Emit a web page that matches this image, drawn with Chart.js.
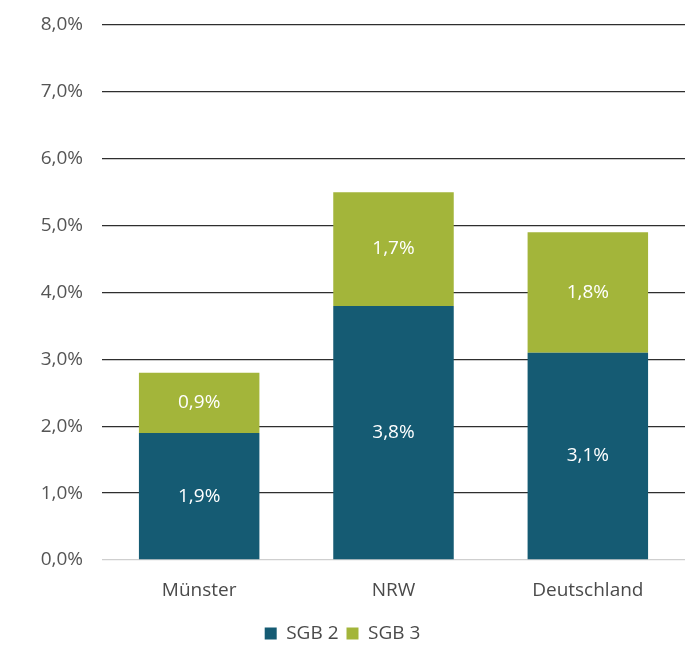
<!DOCTYPE html>
<html>
<head>
<meta charset="utf-8">
<script src="https://cdn.jsdelivr.net/npm/chart.js@4"></script>
<style>
  html, body { margin: 0; padding: 0; background: #fff; }
  #wrap { width: 691px; height: 649px; }
</style>
</head>
<body>
<div id="wrap"><canvas id="chart"></canvas></div>
<script>
const categories = ["Münster", "NRW", "Deutschland"];
const sgb2 = [1.9, 3.8, 3.1];
const sgb3 = [0.9, 1.7, 1.8];
const seriesNames = ["SGB 2", "SGB 3"];
const yTicks = [0, 1, 2, 3, 4, 5, 6, 7, 8];

const fmt = v => v.toFixed(1).replace(".", ",") + "%";

// white value labels in the middle of each bar segment
const barLabels = {
  id: "barLabels",
  afterDatasetsDraw(chart) {
    const ctx = chart.ctx;
    ctx.save();
    ctx.fillStyle = "#ffffff";
    ctx.font = "19px 'Open Sans', sans-serif";
    ctx.textAlign = "center";
    ctx.textBaseline = "middle";
    chart.data.datasets.forEach((ds, i) => {
      chart.getDatasetMeta(i).data.forEach((bar, j) => {
        const p = bar.getProps(["x", "y", "base"], true);
        ctx.fillText(fmt(ds.data[j]), p.x, (p.y + p.base) / 2);
      });
    });
    ctx.restore();
  }
};

new Chart(document.getElementById("chart"), {
  type: "bar",
  data: {
    labels: categories,
    datasets: [
      { label: seriesNames[0], data: sgb2, backgroundColor: "#155b73" },
      { label: seriesNames[1], data: sgb3, backgroundColor: "#a3b53a" }
    ]
  },
  options: {
    responsive: true,
    maintainAspectRatio: false,
    animation: false,
    layout: { padding: { top: 25, right: 6, left: 0, bottom: -4 } },
    datasets: { bar: { categoryPercentage: 0.62, barPercentage: 1 } },
    scales: {
      x: {
        stacked: true,
        grid: { display: false },
        border: { display: false },
        ticks: { color: "#4a4a4a", font: { size: 19, family: "'Open Sans', sans-serif" }, padding: 11 },
        afterFit(scale) { scale.height = 56; }
      },
      y: {
        stacked: true,
        min: yTicks[0],
        max: yTicks[yTicks.length - 1],
        afterBuildTicks(scale) { scale.ticks = yTicks.map(v => ({ value: v })); },
        border: { display: false },
        grid: {
          drawTicks: false,
          color: c => (c.tick && c.tick.value === 0 ? "#cfcfcf" : "#2e2e2e"),
          lineWidth: 1.3
        },
        ticks: {
          color: "#555555",
          padding: 19,
          font: { size: 19, family: "'Open Sans', sans-serif" },
          callback: v => fmt(v)
        },
        afterFit(scale) {
          scale.width = 102;
          scale.paddingTop = 0;
          scale.paddingBottom = 0;
        }
      }
    },
    plugins: {
      legend: {
        position: "bottom",
        labels: {
          color: "#4a4a4a",
          font: { size: 19, family: "'Open Sans', sans-serif" },
          boxWidth: 12,
          boxHeight: 12,
          padding: 8
        }
      },
      tooltip: { enabled: false }
    }
  },
  plugins: [barLabels]
});
</script>
</body>
</html>
